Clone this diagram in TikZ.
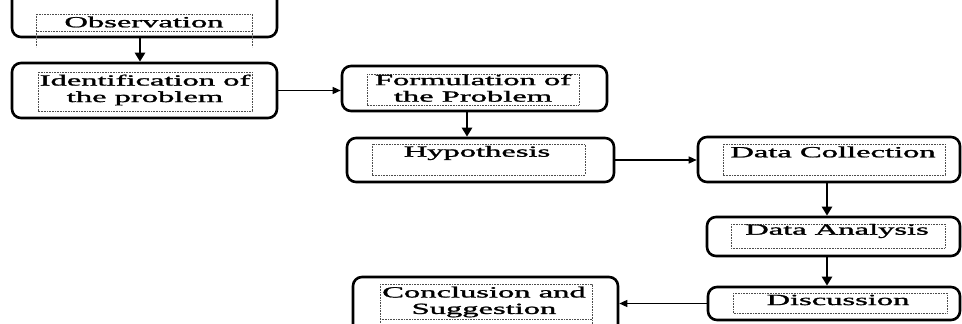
\documentclass[tikz,border=0pt]{standalone}
\usepackage{fontspec}
\setmainfont{Liberation Serif}[BoldFont={Liberation Serif},BoldFeatures={FakeBold=1.2}]
\usetikzlibrary{arrows.meta}
\newcommand\widetxt[1]{\scalebox{2.1}[1]{#1}}
\begin{document}
\begin{tikzpicture}[x=1pt,y=-1pt,
  outerbox/.style={draw=black, line width=2.6pt, rounded corners=9pt, inner sep=0pt},
  innerbox/.style={draw=black!70, line width=0.6pt, dash pattern=on 0.8pt off 0.8pt},
  lbl/.style={inner sep=0pt, align=center, font=\fontsize{15.5}{16.5}\selectfont\bfseries, text=black},
  bigarrow/.style={line width=2.8pt, -{Triangle[length=9pt,width=10pt]}},
  smallarrow/.style={line width=1.4pt, -{Triangle[length=8pt,width=7pt]}}]
\useasboundingbox (0,0) rectangle (962,324);
\clip (0,0) rectangle (962,324);
\fill[white] (0,0) rectangle (962,324);

% outer boxes
\node[outerbox, minimum width=265pt, minimum height=57pt] (obs) at (144.5,8.5) {};
\node[outerbox, minimum width=265pt, minimum height=55pt] (ident) at (144.5,90.5) {};
\node[outerbox, minimum width=265pt, minimum height=45pt] (form) at (474.5,88.5) {};
\node[outerbox, minimum width=267pt, minimum height=44pt] (hyp) at (480.5,160) {};
\node[outerbox, minimum width=262pt, minimum height=45pt] (dc) at (829,159.5) {};
\node[outerbox, minimum width=253pt, minimum height=39pt] (da) at (833.5,236.5) {};
\node[outerbox, minimum width=252pt, minimum height=33pt] (disc) at (834,303.5) {};
\node[outerbox, minimum width=265pt, minimum height=63pt] (concl) at (485.5,308.5) {};

% inner dotted frames
\draw[innerbox] (36,14) rectangle (252,31);
\draw[innerbox] (36,31) -- (36,47) (252,31) -- (252,47);
\draw[innerbox] (38,72) rectangle (252,111);
\draw[innerbox] (367,74) rectangle (579,105);
\draw[innerbox] (372,144) rectangle (585,175);
\draw[innerbox] (723,144) rectangle (945,175);
\draw[innerbox] (731,224) rectangle (945,248);
\draw[innerbox] (733,293) rectangle (947,313);
\draw[innerbox] (380,284) rectangle (592,330);
\draw[innerbox] (380,319) -- (592,319);

% texts
\node[lbl] (obst) at (144,22) {\widetxt{Observation}};
\node[lbl] (identt) at (145,90) {\widetxt{Identification of}\\\widetxt{the problem}};
\node[lbl] (formt) at (473,88) {\widetxt{Formulation of}\\\widetxt{the Problem}};
\node[lbl] (hypt) at (477,153) {\widetxt{Hypothesis}};
\node[lbl] (dct) at (833,152) {\widetxt{Data Collection}};
\node[lbl] (dat) at (837,231) {\widetxt{Data Analysis}};
\node[lbl] (disct) at (838,300) {\widetxt{Discussion}};
\node[lbl] (conclt) at (484,302) {\widetxt{Conclusion and}\\\widetxt{Suggestion}};

% connectors
\draw[bigarrow] ([xshift=-4.5pt]obs.south) -- ([xshift=-4.5pt]obs.south |- ident.north);
\draw[smallarrow] (ident.east) -- (ident.east -| form.west);
\draw[bigarrow] ([xshift=-7.5pt]form.south) -- ([xshift=-7.5pt]form.south |- hyp.north);
\draw[smallarrow] (hyp.east) -- (hyp.east -| dc.west);
\draw[bigarrow] ([xshift=-2pt]dc.south) -- ([xshift=-2pt]dc.south |- da.north);
\draw[bigarrow] ([xshift=-2pt]dc.south |- da.south) -- ([xshift=-2pt]dc.south |- disc.north);
\draw[smallarrow] (disc.west) -- (disc.west -| concl.east);
\end{tikzpicture}
\end{document}
